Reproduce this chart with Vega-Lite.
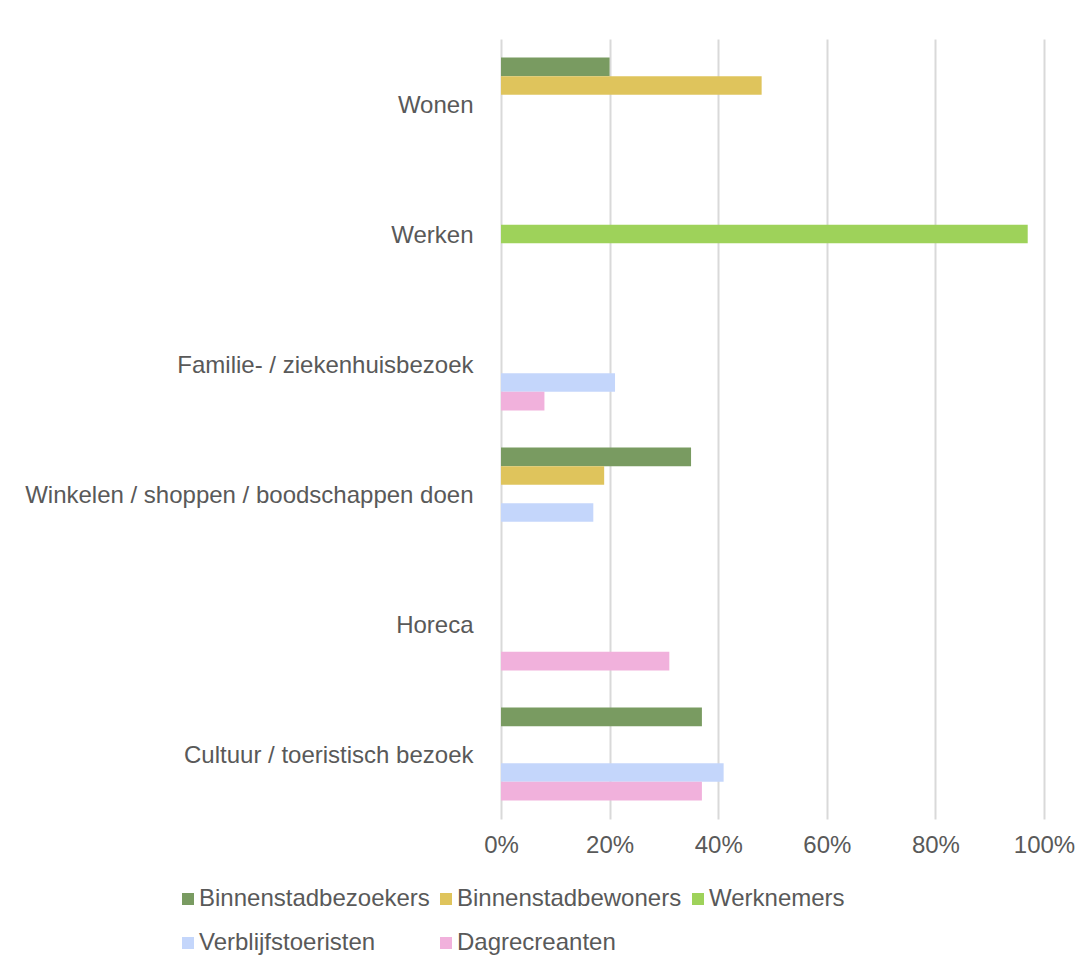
{
  "$schema": "https://vega.github.io/schema/vega-lite/v6.json",
  "autosize": {"type": "none"},
  "padding": {"left": 501, "top": 39, "right": 47, "bottom": 149},
  "width": 543,
  "height": 780,
  "background": "white",
  "config": {
    "view": {"stroke": null},
    "font": "Liberation Sans"
  },
  "data": {
    "values": [
      {"category": "Wonen", "group": "Binnenstadbezoekers", "value": 0.20},
      {"category": "Wonen", "group": "Binnenstadbewoners", "value": 0.48},
      {"category": "Werken", "group": "Werknemers", "value": 0.97},
      {"category": "Familie- / ziekenhuisbezoek", "group": "Verblijfstoeristen", "value": 0.21},
      {"category": "Familie- / ziekenhuisbezoek", "group": "Dagrecreanten", "value": 0.08},
      {"category": "Winkelen / shoppen / boodschappen doen", "group": "Binnenstadbezoekers", "value": 0.35},
      {"category": "Winkelen / shoppen / boodschappen doen", "group": "Binnenstadbewoners", "value": 0.19},
      {"category": "Winkelen / shoppen / boodschappen doen", "group": "Verblijfstoeristen", "value": 0.17},
      {"category": "Horeca", "group": "Dagrecreanten", "value": 0.31},
      {"category": "Cultuur / toeristisch bezoek", "group": "Binnenstadbezoekers", "value": 0.37},
      {"category": "Cultuur / toeristisch bezoek", "group": "Verblijfstoeristen", "value": 0.41},
      {"category": "Cultuur / toeristisch bezoek", "group": "Dagrecreanten", "value": 0.37}
    ]
  },
  "mark": {"type": "bar"},
  "encoding": {
    "y": {
      "field": "category",
      "type": "nominal",
      "sort": ["Wonen", "Werken", "Familie- / ziekenhuisbezoek", "Winkelen / shoppen / boodschappen doen", "Horeca", "Cultuur / toeristisch bezoek"],
      "scale": {
        "domain": ["Wonen", "Werken", "Familie- / ziekenhuisbezoek", "Winkelen / shoppen / boodschappen doen", "Horeca", "Cultuur / toeristisch bezoek"],
        "paddingInner": 0,
        "paddingOuter": 0
      },
      "axis": {
        "title": null,
        "domain": false,
        "ticks": false,
        "labelFontSize": 24,
        "labelColor": "#595959",
        "labelPadding": 28,
        "labelOffset": 2,
        "labelLimit": 0
      }
    },
    "yOffset": {
      "field": "group",
      "type": "nominal",
      "scale": {
        "domain": ["Binnenstadbezoekers", "Binnenstadbewoners", "Werknemers", "Verblijfstoeristen", "Dagrecreanten"],
        "paddingInner": 0,
        "paddingOuter": 1.07
      }
    },
    "x": {
      "field": "value",
      "type": "quantitative",
      "scale": {"domain": [0, 1], "nice": false},
      "axis": {
        "title": null,
        "format": ".0%",
        "values": [0, 0.2, 0.4, 0.6, 0.8, 1],
        "domain": false,
        "ticks": false,
        "grid": true,
        "gridColor": "#d9d9d9",
        "gridWidth": 2,
        "labelFontSize": 24,
        "labelColor": "#595959",
        "labelPadding": 14,
        "labelFlush": false,
        "labelOverlap": false
      }
    },
    "color": {
      "field": "group",
      "type": "nominal",
      "scale": {
        "domain": ["Binnenstadbezoekers", "Binnenstadbewoners", "Werknemers", "Verblijfstoeristen", "Dagrecreanten"],
        "range": ["#799b61", "#dfc45c", "#9ed25a", "#c4d6fb", "#f1b1dc"]
      },
      "legend": {
        "title": null,
        "orient": "none",
        "legendX": -325,
        "legendY": 848,
        "direction": "horizontal",
        "columns": 3,
        "symbolType": "square",
        "symbolSize": 144,
        "symbolStrokeWidth": 0,
        "labelFontSize": 24,
        "labelColor": "#595959",
        "labelOffset": -1,
        "columnPadding": 4,
        "rowPadding": 20,
        "padding": 0,
        "labelLimit": 0
      }
    }
  }
}
